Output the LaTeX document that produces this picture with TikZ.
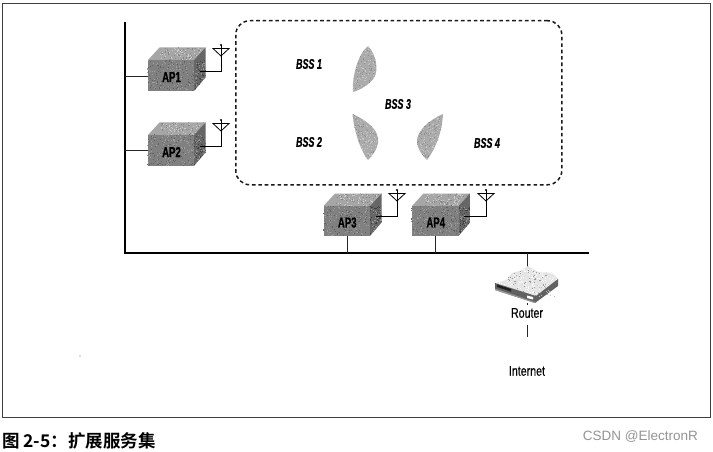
\documentclass[tikz,border=0pt]{standalone}
\usepackage{fontspec}
\setmainfont{Liberation Sans}
\newfontfamily\narrowbi[FakeStretch=0.64,FakeBold=0.7]{Liberation Sans Bold Italic}
\newfontfamily\narrowb[FakeStretch=0.66,FakeBold=0.7]{Liberation Sans Bold}
\newfontfamily\narrowr[FakeStretch=0.76,FakeBold=0.3]{Liberation Sans}
\newfontfamily\cjk{Noto Sans CJK SC Bold}
\tikzset{
  line/.style={draw=black!85,line width=0.9pt},
  bus/.style={draw=black,line width=1.7pt},
  front/.style={fill=black!50,draw=none},
  aplabel/.style={font=\narrowb\fontsize{14.5}{14}\selectfont,text=black,inner sep=0pt},
  bsslabel/.style={font=\narrowbi\fontsize{14}{14}\selectfont,text=black,inner sep=0pt},
  rlabel/.style={font=\narrowr\fontsize{14}{14}\selectfont,text=black,inner sep=0pt},
  ant/.style={draw=black,line width=0.8pt},
}
\pgfmathsetseed{4217}
% speckle: #1 x0, #2 y0, #3 w, #4 h, #5 count, #6 colour
\newcommand{\speck}[6]{%
  \foreach \k in {1,...,#5}{%
    \pgfmathsetmacro{\sx}{#1+rnd*#3}%
    \pgfmathsetmacro{\sy}{#2+rnd*#4}%
    \fill[#6] (\sx,\sy) rectangle ++(1,1);
  }%
}
% #1 name, #2 x, #3 y (front top-left), #4 width, #5 height, #6 label
\newcommand{\apbox}[6]{%
  \begin{scope}
    \clip (#2,#3) -- ++(11.5,-12.5) -- ++(#4,0) -- ++(-11.5,12.5) -- cycle;
    \fill[black!35] (#2,#3-13) rectangle ++(#4+12,13);
    \speck{#2}{#3-13}{#4+12}{13}{70}{black!20}
    \speck{#2}{#3-13}{#4+12}{13}{50}{black!48}
  \end{scope}
  \begin{scope}
    \clip (#2+#4,#3) -- ++(11.5,-12.5) -- ++(0,#5-1) -- ++(-11.5,13.5) -- cycle;
    \fill[black!60] (#2+#4,#3-13) rectangle ++(12,#5+13);
    \speck{#2+#4}{#3-13}{12}{#5+13}{60}{black!75}
    \speck{#2+#4}{#3-13}{12}{#5+13}{50}{black!42}
  \end{scope}
  \node[front,minimum width=#4 pt,minimum height=#5 pt,inner sep=0pt,anchor=north west] (#1) at (#2,#3) {};
  \speck{#2}{#3}{#4-1}{#5-1}{110}{black!38}
  \speck{#2}{#3}{#4-1}{#5-1}{90}{black!62}
  \node[aplabel] at (#2+#4/2+0.5,#3+#5*0.55) {#6};
}
% #1 name prefix, #2 start x, #3 y, #4 mast x, #5 mast top y
\newcommand{\antenna}[5]{%
  \coordinate (#1s) at (#2,#3);
  \coordinate (#1c) at (#4,#3);
  \coordinate (#1t) at (#4,#5);
  \draw[ant] (#1s) -- (#1c) -- (#1t);
  \fill (#1t) circle (1.2pt);
  \draw[ant] (#4-8,#5+3.5) -- (#4+8,#5+3.5) -- (#4,#5+11) -- cycle;
}
% leaf: #1 path, bbox #2 #3 #4 #5
\newcommand{\leafshape}[5]{%
  \begin{scope}
    \clip #1;
    \fill[black!33] (#2,#3) rectangle ++(#4,#5);
    \speck{#2}{#3}{#4}{#5}{170}{black!22}
    \speck{#2}{#3}{#4}{#5}{130}{black!44}
  \end{scope}
}
\begin{document}
\begin{tikzpicture}[x=1pt,y=-1pt]
\useasboundingbox (0,0) rectangle (713,452);
\fill[white] (0,0) rectangle (713,452);
% frame
\draw[draw=black!75,line width=0.9pt] (2.5,3.5) rectangle (710.5,417.5);
% backbone
\coordinate (bt) at (125,22);
\coordinate (bc) at (125,253);
\coordinate (be) at (589,253);
\draw[bus] (bt) -- (bc) -- (be);
% dashed BSS
\node[draw=black!90,line width=1.5pt,dash pattern=on 3.6pt off 2.8pt,rounded corners=14pt,
  minimum width=326pt,minimum height=164pt,inner sep=0pt,anchor=north west] (ess) at (235,20) {};
% APs
\apbox{ap1}{148}{60}{46}{31}{AP1}
\apbox{ap2}{148}{135}{46}{31}{AP2}
\apbox{ap3}{323.5}{206}{46.5}{30}{AP3}
\apbox{ap4}{412}{206}{46.5}{30}{AP4}
\antenna{a1}{200}{71.5}{221}{45}
\antenna{a2}{200}{146}{221}{120}
\antenna{a3}{376}{216}{397}{190}
\antenna{a4}{464}{216}{486}{190}
% stubs
\coordinate (s1) at (125,76);
\coordinate (s2) at (125,150);
\coordinate (s3) at (347,253);
\coordinate (s4) at (435,253);
\draw[line] (s1) -- (s1-|ap1.west);
\draw[line] (s2) -- (s2-|ap2.west);
\draw[line] (s3) -- (s3|-ap3.south);
\draw[line] (s4) -- (s4|-ap4.south);
% leaves
\leafshape{(368,46) .. controls (376,54) and (379,70) .. (374,78) .. controls (370,84) and (360,90) .. (353,92) .. controls (352,76) and (358,54) .. (368,46) -- cycle}{350}{44}{30}{50}
\leafshape{(352.5,114) .. controls (366,120) and (380,130) .. (378,143) .. controls (377,150) and (372,156) .. (368,160) .. controls (360,150) and (354,130) .. (352.5,114) -- cycle}{350}{112}{30}{50}
\leafshape{(443,114) .. controls (430,120) and (416,130) .. (417,143) .. controls (418,150) and (423,156) .. (427,160) .. controls (436,148) and (442,132) .. (443,114) -- cycle}{415}{112}{30}{50}
% BSS labels
\node[bsslabel] at (309,64) {BSS 1};
\node[bsslabel] at (309,142) {BSS 2};
\node[bsslabel] at (398,104) {BSS 3};
\node[bsslabel] at (487,143) {BSS 4};
% router
\coordinate (rt) at (527,253);
\coordinate (rb) at (527,270);
\draw[line] (rt) -- (rb);
\begin{scope}
  \clip (496,283) -- (506,280) -- (512,273) -- (522,270) -- (528,266) -- (538,272) -- (552,273) -- (558,279) -- (536,297) -- cycle;
  \fill[black!10] (495,265) rectangle ++(64,33);
  \speck{495}{265}{64}{33}{300}{white}
  \speck{495}{265}{64}{33}{110}{black!40}
\end{scope}
\fill[black!62] (495,283) -- (536,296) -- (558,279) -- (558,286) -- (535,303) -- (495,290) -- cycle;
\fill[black!40] (495,288.5) -- (535,302) -- (535,303) -- (495,290) -- cycle;
\fill[black!88] (497,284.5) -- (511,289) -- (511,291.5) -- (497,287) -- cycle;
\fill[white] (527,295.5) -- (533,297) -- (533,299.5) -- (527,298) -- cycle;
\speck{537}{284}{18}{12}{16}{black!25}
\coordinate (rm1) at (527,303);
\coordinate (rm2) at (527,305);
\draw[line] (rm1) -- (rm2);
\node[rlabel] (router) at (527,313) {Router};
\coordinate (l1) at (527,325);
\coordinate (l2) at (527,337);
\draw[line] (l1) -- (l2);
\node[rlabel] (inet) at (527,371) {Internet};
\fill[black!60] (80,356) circle (0.6pt);
% caption
\node[anchor=west,inner sep=0pt,font=\cjk\fontsize{17.5}{18}\selectfont] (cap) at (2,441) {图 2-5：扩展服务集};
\node[anchor=east,inner sep=0pt,text=black!42,font=\fontsize{13.5}{14}\selectfont] (wm) at (698,437) {CSDN @ElectronR};
\end{tikzpicture}
\end{document}
